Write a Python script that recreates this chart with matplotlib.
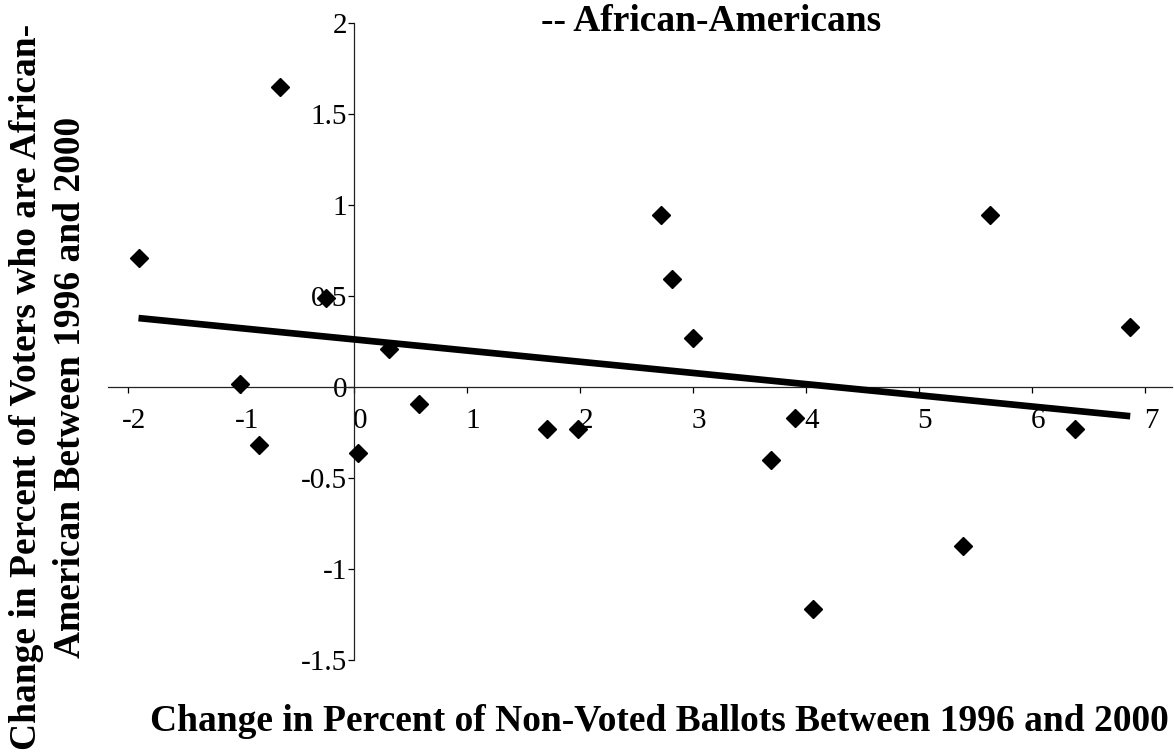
import numpy as np
import matplotlib
matplotlib.use('Agg')
import matplotlib.pyplot as plt
import matplotlib.transforms as transforms


# change in non-voted ballots (%) vs change in share of African-American voters (%)
nonvoted_change = [-1.91, -1.01, -0.84, -0.655, -0.25, 0.03, 0.31, 0.57, 1.705, 1.985,
                   2.72, 2.81, 3.00, 3.69, 3.90, 4.065, 5.39, 5.63, 6.38, 6.87]
african_american_change = [0.71, 0.02, -0.317, 1.65, 0.49, -0.36, 0.21, -0.09, -0.227, -0.227,
                           0.945, 0.593, 0.27, -0.40, -0.167, -1.22, -0.87, 0.945, -0.227, 0.33]

# linear trendline as shown on the chart
trend_slope = -0.0614
trend_intercept = 0.263

x_ticks = [-2, -1, 0, 1, 2, 3, 4, 5, 6, 7]
y_ticks = [-1.5, -1, -0.5, 0, 0.5, 1, 1.5, 2]
y_tick_labels = ['-1.5', '-1', '-0.5', '0', '0.5', '1', '1.5', '2']

plt.rcParams['font.family'] = ['Liberation Serif', 'DejaVu Serif']

fig = plt.figure(figsize=(11.74, 7.56), dpi=100)
ax = fig.add_axes([0.092, 0.1266, 0.9063, 0.8426])

x = np.array(nonvoted_change)
y = np.array(african_american_change)
ax.plot(x, y, linestyle='none', marker='D', markersize=9.5,
        markerfacecolor='black', markeredgecolor='black', zorder=3)

xs = np.array([x.min(), x.max()])
ax.plot(xs, trend_slope * xs + trend_intercept, color='black', linewidth=4.8,
        solid_capstyle='butt', zorder=4)

ax.set_xlim(-2.18, 7.24)
ax.set_ylim(-1.5, 2)

for side in ['top', 'right']:
    ax.spines[side].set_visible(False)
ax.spines['left'].set_position(('data', 0))
ax.spines['bottom'].set_position(('data', 0))
for side in ['left', 'bottom']:
    ax.spines[side].set_linewidth(0.9)
    ax.spines[side].set_color('#222222')

ax.set_xticks(x_ticks)
ax.set_xticklabels([str(t) for t in x_ticks])
ax.set_yticks(y_ticks)
ax.set_yticklabels(y_tick_labels)
ax.tick_params(axis='x', direction='out', length=4, width=0.9, pad=11,
               labelsize=21, colors='black')
ax.tick_params(axis='y', direction='out', length=4, width=0.9, pad=1,
               labelsize=21, colors='black')

offset = transforms.ScaledTranslation(0.06, 0, fig.dpi_scale_trans)
for lbl in ax.xaxis.get_majorticklabels():
    lbl.set_transform(lbl.get_transform() + offset)

fig.text(0.606, 0.959, '-- African-Americans', ha='center', va='baseline',
         fontsize=27, fontweight='bold')
fig.text(0.562, 0.045, 'Change in Percent of Non-Voted Ballots Between 1996 and 2000',
         ha='center', va='center', fontsize=27, fontweight='bold')
fig.text(0.041, 0.488, 'Change in Percent of Voters who are African-\nAmerican Between 1996 and 2000',
         ha='center', va='center', rotation=90, fontsize=27, fontweight='bold',
         multialignment='center', linespacing=1.33)

fig.savefig('out.png', dpi=100)
